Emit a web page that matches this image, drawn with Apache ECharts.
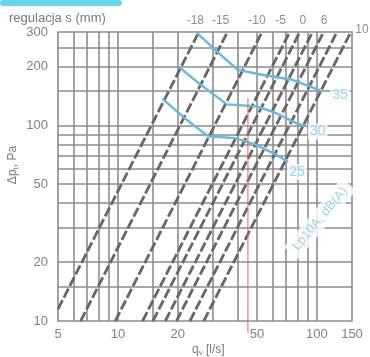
<!DOCTYPE html>
<html>
<head>
<meta charset="utf-8">
<script src="https://cdn.jsdelivr.net/npm/echarts@6/dist/echarts.min.js"></script>
<style>
html, body { margin: 0; padding: 0; background: #fff; }
#chart { width: 370px; height: 357px; }
</style>
</head>
<body>
<div id="chart"></div>
<script>
// axes: q_v [l/s] (x, log) and Δp_t [Pa] (y, log)
const xTickLabels = [5, 10, 20, 50, 100, 150];
const xGridLines = [6, 7, 8, 9, 10, 15, 20, 30, 40, 50, 60, 70, 80, 90, 100];
const yTickLabels = [10, 20, 50, 100, 200, 300];
const yGridLines = [15, 20, 30, 40, 50, 60, 70, 80, 90, 100, 150, 200, 250];

// damper setting lines (regulacja s), start and end points
const settingStartQ = [5, 6.5, 9.7, 13.3, 15.0, 17.3, 19.7, 23.0, 27.0];
const settingStartP = [11.5, 10, 10, 10, 10, 10, 10, 10, 10];
const settingEndQ = [25.5, 35.5, 53, 73, 82, 95, 108, 126, 148];
const settingEndP = [300, 300, 300, 300, 300, 300, 300, 300, 300];

// labels above the plot
const settingLabels = ['-18', '-15', '-10', '-5', '0', '6'];
const settingLabelQ = [24.5, 32.8, 50, 65.6, 85, 108.6];
const cornerLabel = '10';

// sound level contours Lp10A dB(A)
const lp35Q = [25, 31.5, 40, 50.6, 75, 92, 107];
const lp35P = [296, 238, 192, 183, 171, 158, 149];
const lp30Q = [20.5, 25.9, 35.3, 50, 63, 79.4, 89];
const lp30P = [197, 162, 128, 125, 115, 102, 99];
const lp25Q = [16.7, 21.7, 28.4, 38.7, 48.9, 61.6, 71.6];
const lp25P = [137, 108.5, 88, 86, 80, 71.3, 65];
const contourLevels = ['35', '30', '25'];
const contourLabelQ = [130.6, 101, 79.4];
const contourLabelP = [142, 93, 57.7];

// operating point marker
const markQ = 45;
const markTopP = 138;
const markBottomP = 8.7;

const FONT = 'Liberation Sans, Arial, sans-serif';
const GRID_COLOR = '#8c8c8c';
const BLUE = '#64b8e2';

function pairs(qs, ps) {
  return qs.map((q, i) => [q, ps[i]]);
}

function textSeries(qs, ps, texts, label, z) {
  return {
    type: 'scatter',
    symbolSize: 1,
    itemStyle: { color: 'rgba(0,0,0,0)' },
    clip: false,
    silent: true,
    animation: false,
    z: z,
    label: Object.assign({ show: true, fontFamily: FONT }, label),
    data: qs.map((q, i) => ({
      value: [q, ps[i]],
      label: { formatter: () => texts[i] }
    }))
  };
}

const series = [];

// grid lines
series.push({
  type: 'line',
  data: [],
  z: 1,
  markLine: {
    silent: true,
    z: 1,
    animation: false,
    symbol: ['none', 'none'],
    label: { show: false },
    lineStyle: { color: GRID_COLOR, width: 1.6, type: 'solid' },
    data: xGridLines.map(v => ({ xAxis: v })).concat(yGridLines.map(v => ({ yAxis: v })))
  }
});

// setting lines
settingStartQ.forEach((q, i) => {
  series.push({
    type: 'line',
    z: 2,
    silent: true,
    animation: false,
    symbol: 'none',
    lineStyle: { color: '#666', width: 2.8, type: [10, 3] },
    data: [[q, settingStartP[i]], [settingEndQ[i], settingEndP[i]]]
  });
});

// contours
[[lp35Q, lp35P], [lp30Q, lp30P], [lp25Q, lp25P]].forEach(c => {
  series.push({
    type: 'line',
    z: 3,
    silent: true,
    animation: false,
    symbol: 'none',
    lineStyle: { color: BLUE, width: 2.4 },
    data: pairs(c[0], c[1])
  });
});

// red marker line
series.push({
  type: 'line',
  z: 4,
  clip: false,
  silent: true,
  animation: false,
  symbol: 'none',
  lineStyle: { color: '#e06464', width: 1 },
  data: [[markQ, markTopP], [markQ, markBottomP]]
});

// setting labels on top
series.push(textSeries(settingLabelQ, settingLabelQ.map(() => 300), settingLabels,
  { position: 'top', distance: 5, color: '#707070', fontSize: 12 }, 10));
series.push(textSeries([settingEndQ[settingEndQ.length - 1]], [300], [cornerLabel],
  { position: 'right', distance: 4, offset: [0, -2], color: '#707070', fontSize: 12 }, 10));

// contour labels
series.push(textSeries(contourLabelQ, contourLabelP, contourLevels,
  { position: 'inside', color: '#7ccbe4', fontSize: 14, backgroundColor: '#fff', padding: [1, 2] }, 10));

// Lp10A caption
series.push(textSeries([103.6], [33.3], ['Lp10A, dB(A)'],
  { position: 'inside', rotate: 50, color: '#7ccbe4', fontSize: 13, backgroundColor: '#fff', padding: [3, 6] }, 10));

const chart = echarts.init(document.getElementById('chart'), null, { renderer: 'canvas' });
chart.setOption({
  animation: false,
  backgroundColor: '#fff',
  grid: {
    left: 58, top: 32, right: 18, bottom: 36,
    show: true, borderColor: GRID_COLOR, borderWidth: 1.6, backgroundColor: 'transparent'
  },
  xAxis: {
    type: 'log',
    logBase: 10,
    min: 5,
    max: 150,
    axisLine: { show: false },
    axisTick: { show: false },
    splitLine: { show: false },
    axisLabel: {
      customValues: xTickLabels,
      color: '#808080',
      fontSize: 13,
      fontFamily: FONT,
      margin: 7
    }
  },
  yAxis: {
    type: 'log',
    logBase: 10,
    min: 10,
    max: 300,
    axisLine: { show: false },
    axisTick: { show: false },
    splitLine: { show: false },
    axisLabel: {
      customValues: yTickLabels,
      color: '#808080',
      fontSize: 13,
      fontFamily: FONT,
      margin: 10
    }
  },
  graphic: [
    {
      type: 'rect',
      shape: { x: 0, y: 0, width: 122, height: 6, r: 3 },
      style: { fill: '#6ad4e8' }
    },
    {
      type: 'text',
      x: 9, y: 18,
      style: { text: 'regulacja s (mm)', fill: '#7a7a7a', font: '13px ' + FONT, verticalAlign: 'middle' }
    },
    {
      type: 'text',
      x: 13, y: 165,
      rotation: Math.PI / 2,
      style: {
        text: 'Δp{s|t}, Pa',
        fill: '#7a7a7a',
        font: '12px ' + FONT,
        align: 'center',
        verticalAlign: 'middle',
        rich: { s: { fontSize: 8, fill: '#7a7a7a', padding: [6, 0, 0, 0] } }
      }
    },
    {
      type: 'text',
      x: 192, y: 350,
      style: {
        text: 'q{s|v} [l/s]',
        fill: '#7a7a7a',
        font: '12px ' + FONT,
        verticalAlign: 'middle',
        rich: { s: { fontSize: 8, fill: '#7a7a7a', padding: [6, 0, 0, 0] } }
      }
    }
  ],
  series: series
});
</script>
</body>
</html>
